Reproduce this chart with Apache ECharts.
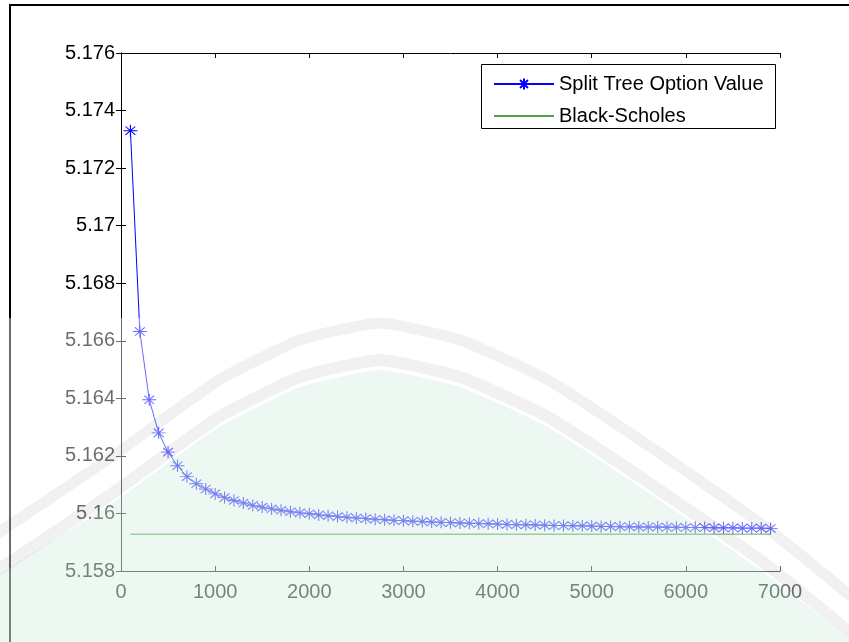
<!DOCTYPE html>
<html>
<head>
<meta charset="utf-8">
<title>Split Tree Option Value</title>
<script src="https://cdn.jsdelivr.net/npm/echarts@6/dist/echarts.min.js"></script>
<style>
  html, body { margin: 0; padding: 0; background: #fff; }
  #main { width: 849px; height: 642px; }
</style>
</head>
<body>
<div id="main"></div>
<script>
// number of tree steps (x)
const steps = [100, 200, 300, 400, 500, 600, 700, 800, 900, 1000,
  1100, 1200, 1300, 1400, 1500, 1600, 1700, 1800, 1900, 2000,
  2100, 2200, 2300, 2400, 2500, 2600, 2700, 2800, 2900, 3000,
  3100, 3200, 3300, 3400, 3500, 3600, 3700, 3800, 3900, 4000,
  4100, 4200, 4300, 4400, 4500, 4600, 4700, 4800, 4900, 5000,
  5100, 5200, 5300, 5400, 5500, 5600, 5700, 5800, 5900, 6000,
  6100, 6200, 6300, 6400, 6500, 6600, 6700, 6800, 6900]

// option value
const splitTree = [5.17330, 5.16632, 5.16395, 5.16280, 5.16213, 5.16166, 5.16128, 5.16103, 5.16085, 5.16068,
  5.16055, 5.16045, 5.16036, 5.16028, 5.16022, 5.16016, 5.16011, 5.16006, 5.16002, 5.15999,
  5.15995, 5.15992, 5.15989, 5.15987, 5.15984, 5.15982, 5.15980, 5.15978, 5.15976, 5.15975,
  5.15973, 5.15972, 5.15970, 5.15969, 5.15968, 5.15967, 5.15966, 5.15965, 5.15964, 5.15963,
  5.15962, 5.15961, 5.15961, 5.15960, 5.15959, 5.15958, 5.15958, 5.15957, 5.15957, 5.15956,
  5.15955, 5.15955, 5.15954, 5.15954, 5.15953, 5.15953, 5.15953, 5.15952, 5.15952, 5.15951,
  5.15951, 5.15951, 5.15950, 5.15950, 5.15950, 5.15949, 5.15949, 5.15949, 5.15948]

// Black-Scholes reference, flat over the same step range
const bsSteps = [100, 6900]
const bsValue = [5.15928, 5.15928]

const xTicks = [0, 1000, 2000, 3000, 4000, 5000, 6000, 7000]
const yTicks = [5.158, 5.16, 5.162, 5.164, 5.166, 5.168, 5.17, 5.172, 5.174, 5.176]

const font = 'Liberation Sans, Arial, Helvetica, sans-serif'
const star = 'path://M5,0L5,10M0,5L10,5M1.5,1.5L8.5,8.5M1.5,8.5L8.5,1.5'

const myChart = echarts.init(document.getElementById('main'))

function axisBase(extra) {
  return Object.assign({
    type: 'value',
    axisLine: { show: true, lineStyle: { color: '#000', width: 1 } },
    axisTick: { show: true, inside: true, length: 5, lineStyle: { color: '#000' } },
    splitLine: { show: false }
  }, extra)
}

const xa = { min: xTicks[0], max: xTicks[xTicks.length - 1], interval: 1000 }
const ya = { min: yTicks[0], max: yTicks[yTicks.length - 1], interval: 0.002 }

// watermark shape (rough)
const arch = [[-20, 545], [110, 458], [219, 380], [300, 340], [380, 323], [460, 340], [548, 380], [658, 452], [767, 528], [870, 612]]
const shift = (pts, dy) => pts.map(p => [p[0], p[1] + dy])
const greenPts = shift(arch, 47).concat([[870, 700], [-20, 700]])

const options = {
  animation: false,
  backgroundColor: '#fff',
  grid: { left: 121, right: 69, top: 53, bottom: 71, containLabel: false, outerBoundsMode: 'none' },
  legend: {
    orient: 'vertical',
    left: 488,
    top: 69,
    padding: 5,
    itemWidth: 60,
    itemHeight: 14,
    itemGap: 12,
    textStyle: { fontFamily: font, fontSize: 20, color: '#000' },
    data: [
      { name: 'Split Tree Option Value' },
      { name: 'Black-Scholes', itemStyle: { opacity: 0 } }
    ]
  },
  xAxis: [
    axisBase(Object.assign({
      position: 'bottom',
      axisLabel: { fontFamily: font, fontSize: 20, color: '#000', margin: 11, formatter: v => String(v) }
    }, xa)),
    axisBase(Object.assign({ position: 'top', axisLabel: { show: false } }, xa))
  ],
  yAxis: [
    axisBase(Object.assign({
      position: 'left',
      axisLabel: {
        fontFamily: font, fontSize: 20, color: '#000', margin: 6,
        formatter: v => String(+v.toFixed(3))
      }
    }, ya)),
    axisBase(Object.assign({ position: 'right', axisLabel: { show: false } }, ya))
  ],
  series: [
    {
      name: 'Split Tree Option Value',
      type: 'line',
      data: steps.map((s, i) => [s, splitTree[i]]),
      symbol: star,
      symbolSize: [14, 12],
      showAllSymbol: true,
      lineStyle: { color: '#0000ff', width: 1 },
      itemStyle: { color: 'rgba(0,0,0,0)', borderColor: '#0000ff', borderWidth: 1 },
      z: 3
    },
    {
      name: 'Black-Scholes',
      type: 'line',
      data: bsSteps.map((s, i) => [s, bsValue[i]]),
      symbol: 'none',
      lineStyle: { color: '#4aa64a', width: 1.5 },
      itemStyle: { color: '#4aa64a' },
      z: 2
    }
  ],
  graphic: [
    // figure frame
    { type: 'line', shape: { x1: 9, y1: 5, x2: 849, y2: 5 }, style: { stroke: '#000', lineWidth: 2 }, z: 50 },
    { type: 'line', shape: { x1: 10, y1: 5, x2: 10, y2: 642 }, style: { stroke: '#000', lineWidth: 2 }, z: 50 },
    // legend box
    { type: 'rect', shape: { x: 481.5, y: 64.5, width: 294, height: 64 }, style: { fill: 'none', stroke: '#000', lineWidth: 1 }, z: 50 },
    // watermark: lightened lower part
    { type: 'rect', shape: { x: 0, y: 318, width: 849, height: 324 }, style: { fill: 'rgba(255,255,255,0.42)' }, silent: true, z: 100 },
    { type: 'polygon', shape: { points: greenPts, smooth: 0.15 }, style: { fill: 'rgba(170,222,192,0.2)' }, silent: true, z: 101 },
    { type: 'polyline', shape: { points: shift(arch, 0), smooth: 0.15 }, style: { stroke: 'rgba(0,0,0,0.055)', lineWidth: 11, fill: 'none' }, silent: true, z: 101 },
    { type: 'polyline', shape: { points: shift(arch, 37), smooth: 0.15 }, style: { stroke: 'rgba(0,0,0,0.055)', lineWidth: 12, fill: 'none' }, silent: true, z: 101 }
  ]
}

myChart.setOption(options)
</script>
</body>
</html>
